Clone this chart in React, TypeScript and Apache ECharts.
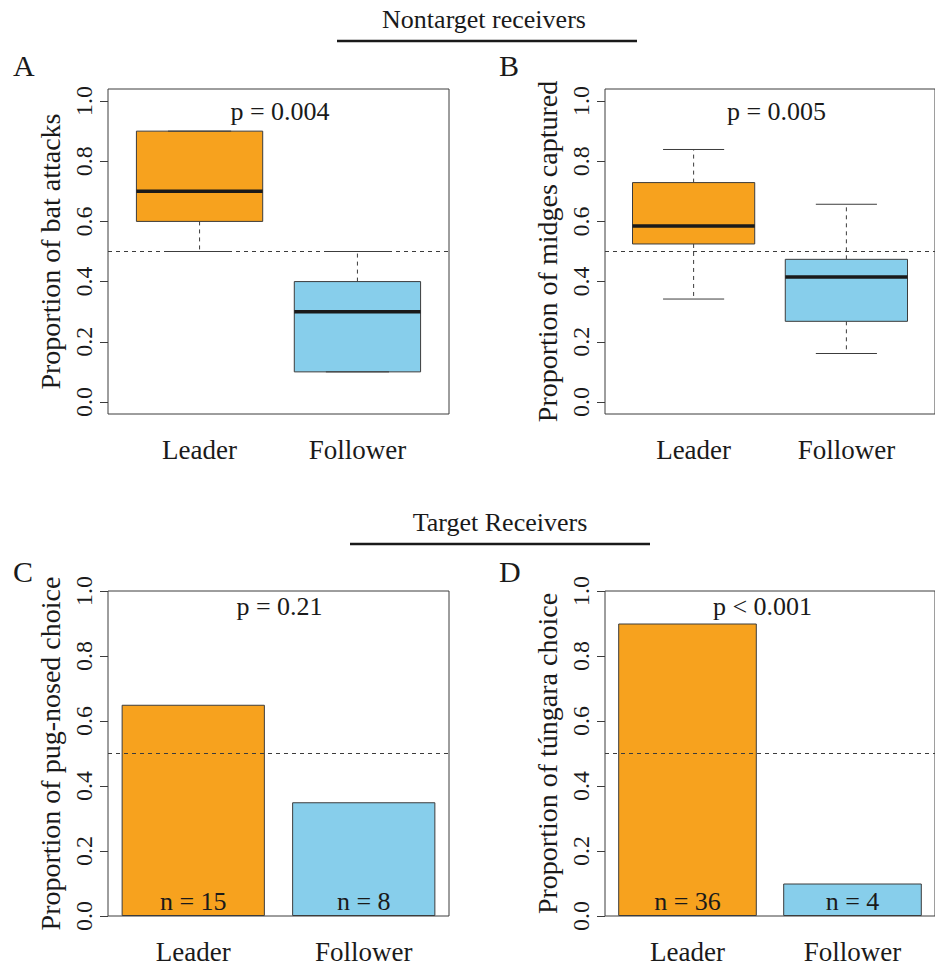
import React, { useEffect, useRef } from "react";
import * as echarts from "echarts";

const categories = ["Leader", "Follower"];
const yTicks = [0, 0.2, 0.4, 0.6, 0.8, 1.0];
// boxplot statistics: [lower whisker, Q1, median, Q3, upper whisker]
const batAttacks = [
  [0.5, 0.6, 0.7, 0.9, 0.9],
  [0.1, 0.1, 0.3, 0.4, 0.5],
];
const midgesCaptured = [
  [0.342, 0.525, 0.585, 0.729, 0.839],
  [0.161, 0.268, 0.415, 0.474, 0.657],
];
const pugNosedChoice = [0.65, 0.35];
const tungaraChoice = [0.9, 0.1];
const pugNosedN = ["n = 15", "n = 8"];
const tungaraN = ["n = 36", "n = 4"];
const pValues = ["p = 0.004", "p = 0.005", "p = 0.21", "p < 0.001"];
const yTitles = [
  "Proportion of bat attacks",
  "Proportion of midges captured",
  "Proportion of pug-nosed choice",
  "Proportion of túngara choice",
];
const panelLetters = ["A", "B", "C", "D"];
const groupTitles = ["Nontarget receivers", "Target Receivers"];
const fillColors = ["#F7A21E", "#87CEEB"];

const FONT = "Liberation Serif";
const TXT = "#1a1a1a";
const LINE = "#3c3c3c";

const gridPos = [
  { left: 108, top: 89 },
  { left: 605, top: 89 },
  { left: 108, top: 591 },
  { left: 605, top: 591 },
];

function boxRender(params: any, api: any) {
  const x = api.value(0);
  const lo = api.coord([x, api.value(1)]);
  const q1 = api.coord([x, api.value(2)]);
  const med = api.coord([x, api.value(3)]);
  const q3 = api.coord([x, api.value(4)]);
  const hi = api.coord([x, api.value(5)]);
  const w = api.size([0.8, 0])[0];
  const cx = lo[0];
  const dash = { stroke: LINE, lineWidth: 1, lineDash: [4, 4], fill: null };
  const solid = { stroke: LINE, lineWidth: 1, fill: null };
  return {
    type: "group",
    children: [
      { type: "line", shape: { x1: cx, y1: q1[1], x2: cx, y2: lo[1] }, style: dash },
      { type: "line", shape: { x1: cx, y1: q3[1], x2: cx, y2: hi[1] }, style: dash },
      {
        type: "rect",
        shape: { x: cx - w / 2, y: q3[1], width: w, height: q1[1] - q3[1] },
        style: { fill: fillColors[params.dataIndex], stroke: LINE, lineWidth: 1 },
      },
      { type: "line", shape: { x1: cx - w / 4, y1: lo[1], x2: cx + w / 4, y2: lo[1] }, style: solid },
      { type: "line", shape: { x1: cx - w / 4, y1: hi[1], x2: cx + w / 4, y2: hi[1] }, style: solid },
      {
        type: "line",
        shape: { x1: cx - w / 2, y1: med[1], x2: cx + w / 2, y2: med[1] },
        style: { stroke: "#1a1a1a", lineWidth: 3.5, fill: null },
      },
    ],
  };
}

const refLine = {
  silent: true,
  symbol: ["none", "none"],
  label: { show: false },
  lineStyle: { type: [4, 4], color: LINE, width: 1 },
  data: [{ yAxis: 0.5 }],
};

export default function App() {
  const ref = useRef<HTMLDivElement>(null);
  useEffect(() => {
    document.body.style.margin = "0";
    const chart = echarts.init(ref.current!, null, { renderer: "svg" });

    const grids = gridPos.map((g) => ({
      ...g,
      width: 341,
      height: 325,
      show: true,
      borderColor: LINE,
      borderWidth: 1,
      backgroundColor: "transparent",
      containLabel: false,
    }));

    const xLabelStyle = { fontSize: 27, fontFamily: FONT, color: TXT, margin: 22 };

    const xAxes = [0, 1, 2, 3].map((i) =>
      i < 2
        ? {
            gridIndex: i,
            type: "value",
            min: 0.42,
            max: 2.58,
            splitLine: { show: false },
            axisLine: { show: false },
            axisTick: { show: false },
            axisLabel: {
              ...xLabelStyle,
              customValues: [1, 2],
              formatter: (v: number) => categories[Math.round(v) - 1] ?? "",
            },
          }
        : {
            gridIndex: i,
            type: "category",
            data: categories,
            splitLine: { show: false },
            axisLine: { show: false },
            axisTick: { show: false },
            axisLabel: { ...xLabelStyle },
          }
    );

    const yAxes = [0, 1, 2, 3].map((i) => {
      const base: any = {
        gridIndex: i,
        type: "value",
        name: yTitles[i],
        nameLocation: "middle",
        nameRotate: 90,
        nameGap: 44,
        nameTextStyle: { fontSize: 28, fontFamily: FONT, color: TXT },
        splitLine: { show: false },
        axisLine: { show: false },
        axisTick: { show: true, length: 8, lineStyle: { color: LINE, width: 1 } },
        axisLabel: {
          rotate: 90,
          fontSize: 24,
          fontFamily: FONT,
          color: TXT,
          margin: 12,
          formatter: (v: number) => v.toFixed(1),
        },
      };
      if (i < 2) {
        base.min = -0.04;
        base.max = 1.04;
        base.axisTick.customValues = yTicks;
        base.axisLabel.customValues = yTicks;
      } else {
        base.min = 0;
        base.max = 1;
        base.interval = 0.2;
      }
      return base;
    });

    const boxSeries = [batAttacks, midgesCaptured].map((stats, i) => ({
      type: "custom",
      xAxisIndex: i,
      yAxisIndex: i,
      renderItem: boxRender,
      encode: { x: 0, y: [1, 2, 3, 4, 5] },
      data: stats.map((s, k) => [k + 1, ...s]),
      markLine: refLine,
      z: 3,
    }));

    const barSeries = [
      [pugNosedChoice, pugNosedN],
      [tungaraChoice, tungaraN],
    ].map(([vals, ns]: any, j) => ({
      type: "bar",
      xAxisIndex: j + 2,
      yAxisIndex: j + 2,
      barCategoryGap: "16%",
      data: vals.map((v: number, k: number) => ({
        value: v,
        itemStyle: { color: fillColors[k], borderColor: LINE, borderWidth: 1 },
      })),
      label: {
        show: true,
        position: "insideBottom",
        distance: 2,
        fontSize: 26,
        fontFamily: FONT,
        color: TXT,
        formatter: (p: any) => ns[p.dataIndex],
      },
      markLine: refLine,
    }));

    const textEl = (text: string, x: number, y: number, size: number, align = "center") => ({
      type: "text",
      x,
      y,
      silent: true,
      style: {
        text,
        fontSize: size,
        fontFamily: FONT,
        fill: TXT,
        textAlign: align,
        textVerticalAlign: "middle",
        verticalAlign: "middle",
      },
    });

    const pPos = [
      [280, 111],
      [776.5, 111],
      [279.5, 606],
      [762.5, 606],
    ];
    const letterPos = [
      [13, 65],
      [499, 65],
      [13, 571],
      [499, 571],
    ];

    const graphic: any[] = [
      textEl(groupTitles[0], 484, 19.5, 26),
      textEl(groupTitles[1], 500, 522, 26),
      { type: "line", shape: { x1: 337, y1: 41, x2: 637, y2: 41 }, style: { stroke: "#1a1a1a", lineWidth: 2.3 } },
      { type: "line", shape: { x1: 350, y1: 544, x2: 650, y2: 544 }, style: { stroke: "#1a1a1a", lineWidth: 2.3 } },
      ...pValues.map((p, i) => textEl(p, pPos[i][0], pPos[i][1], 26)),
      ...panelLetters.map((l, i) => textEl(l, letterPos[i][0], letterPos[i][1], 30, "left")),
    ];

    chart.setOption({
      animation: false,
      backgroundColor: "#ffffff",
      textStyle: { fontFamily: FONT },
      grid: grids,
      xAxis: xAxes,
      yAxis: yAxes,
      series: [...boxSeries, ...barSeries],
      graphic,
    } as any);

    return () => chart.dispose();
  }, []);
  return (
    <div
      ref={ref}
      style={{ position: "absolute", left: 0, top: 0, width: 935, height: 966 }}
    />
  );
}
